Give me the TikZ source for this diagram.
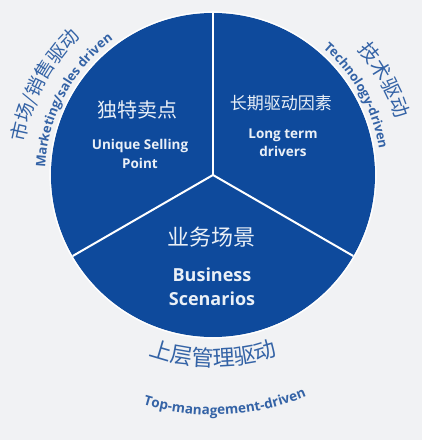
\documentclass[tikz,border=0pt]{standalone}
\usepackage{fontspec}
\setsansfont{Open Sans}
\newfontfamily\cjk{Noto Sans CJK SC}
\usetikzlibrary{positioning,decorations.text,calc}
\usepackage{xcolor}
\definecolor{wheelblue}{HTML}{0E4A9C}
\definecolor{paper}{HTML}{F1F2F4}
\definecolor{labelblue}{HTML}{3463A6}
\definecolor{softwhite}{HTML}{EAF0F7}
\tikzset{
	title/.style={%
		text=softwhite,
		font=\cjk\fontsize{#1}{#1}\selectfont
	},
	title/.default=20,
	caption/.style={%
		text=softwhite, align=center,
		font=\sffamily\bfseries\fontsize{#1}{\dimexpr#1pt*135/100\relax}\selectfont
	},
	caption/.default=13.5,
	curved/.style={%
		decorate,
		decoration={text along path, text align=center,
			text color=labelblue, text={#1}}
	}
}

\begin{document}
\begin{tikzpicture}[x=1pt,y=1pt]
		
		% paper behind the wheel, fixes the margins
		\fill[paper] (-213,-265) rectangle (209,175);
		\useasboundingbox (-213,-265) rectangle (209,175);
		
		\coordinate (c) at (0,0);
		
		% the wheel and its three sectors
		\fill[wheelblue] (c) circle[radius=162pt];
		\draw[white,line width=1.2pt] (c) circle[radius=163pt];
		\foreach \a in {90,210,330}
			\draw[white,line width=2pt] (c) -- ($(c)+(\a:162pt)$);
		
		% text in the sectors
		\node[title] (usp) at (-75,65) {独特卖点};
		\node[caption] (uspen) at (-73,21) {Unique Selling\\Point};
		
		\node[title=17] (ltd) at (68,72) {长期驱动因素};
		\node[caption] (ltden) at (70,32) {Long term\\drivers};
		
		\node[title=22] (bs) at (-1,-62) {业务场景};
		\node[caption=18] (bsen) at (-1,-112) {Business\\Scenarios};
		
		% curved labels round the wheel
		\path[curved={|\cjk\fontsize{19}{19}\selectfont|市场/销售驱动}]
			($(c)+(200:191pt)$) arc[start angle=200,end angle=104,radius=191pt];
		\path[curved={|\sffamily\bfseries\fontsize{13}{13}\selectfont|Marketing/sales driven}]
			($(c)+(200:168pt)$) arc[start angle=200,end angle=104,radius=168pt];
		
		\path[curved={|\cjk\fontsize{20}{20}\selectfont|技术驱动}]
			($(c)+(77:191pt)$) arc[start angle=77,end angle=-19,radius=191pt];
		\path[curved={|\sffamily\bfseries\fontsize{12.8}{12.8}\selectfont|Technology-driven}]
			($(c)+(77:168pt)$) arc[start angle=77,end angle=-19,radius=168pt];
		
		\path[curved={|\cjk\fontsize{22}{22}\selectfont|上层管理驱动}]
			($(c)+(225:191pt)$) arc[start angle=225,end angle=315,radius=191pt];
		\path[curved={|\sffamily\bfseries\fontsize{13.5}{13.5}\selectfont|Top-management-driven}]
			($(c)+(228:240pt)$) arc[start angle=228,end angle=318,radius=240pt];
		
\end{tikzpicture}
\end{document}
